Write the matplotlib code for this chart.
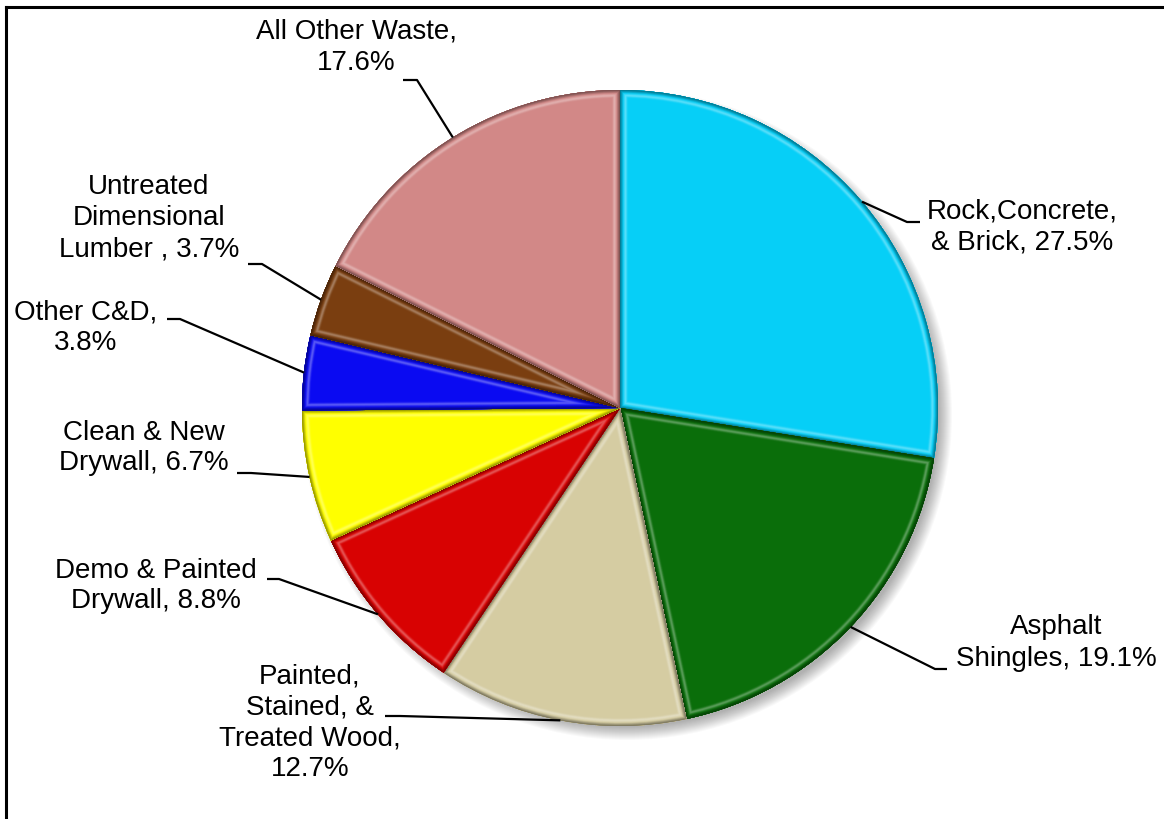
import matplotlib
matplotlib.use('Agg')
import matplotlib.pyplot as plt
import numpy as np
from matplotlib.patches import Wedge, Circle
from matplotlib.colors import to_rgb

plt.rcParams['font.family'] = ['Liberation Sans', 'DejaVu Sans']

W, H = 1164, 819

categories = ['Rock,Concrete,\n& Brick', 'Asphalt\nShingles', 'Painted,\nStained, &\nTreated Wood',
              'Demo & Painted\nDrywall', 'Clean & New\nDrywall', 'Other C&D',
              'Untreated\nDimensional\nLumber ', 'All Other Waste']
shares = [27.5, 19.1, 12.7, 8.8, 6.7, 3.8, 3.7, 17.6]
colors = ['#06CFF7', '#0A6E0A', '#D5CCA2', '#D80202', '#FFFF00', '#0A0AF2', '#7A3E10', '#D28887']

# label text: how the percentage joins the category name
label_fmt = ['{}, {}%', '{}, {}%', '{},\n{}%', '{}, {}%', '{}, {}%', '{},\n{}%', '{}, {}%', '{},\n{}%']

# label block centres and leader elbow/end points (pixels from top-left)
label_pos = [(1022, 227), (1056, 643), (310, 723), (156, 586), (144, 448), (86, 328), (149, 218), (356, 47)]
leader_end = [(920, 222), (947, 669), (385, 716), (267, 579), (237, 473), (167, 319), (248, 264), (403, 80)]
leader_elbow = [(907, 222), (935, 669), (400, 716), (279, 579), (251, 473), (180, 319), (262, 264), (417, 80)]

cx, cy, R = 620, 408, 318

fig = plt.figure(figsize=(W / 100, H / 100), dpi=100)
ax = fig.add_axes([0, 0, 1, 1])

# soft drop shadow
for k in range(14):
    ax.add_patch(Circle((cx + 7, H - cy - 7), R + 7 - k, color='black', alpha=0.025, lw=0))

wedges, _ = ax.pie(shares, colors=colors, startangle=90, counterclock=False,
                   center=(cx, H - cy), radius=R,
                   wedgeprops=dict(linewidth=0))


def shade(c, d):
    # bevel profile: dark rim, soft bright ridge a few pixels in, base colour inside
    base = np.array(to_rgb(c))
    dark = 0.55 + 0.45 * min(d / 3.5, 1.0)
    col = base * dark
    glow = 0.32 * np.exp(-((d - 5.5) / 1.6) ** 2)
    return np.clip(col + glow * (1 - col), 0, 1)


px = 72 / 100
for w, c in zip(wedges, colors):
    for d in np.arange(11, 0, -0.5):
        band = Wedge(w.center, w.r, w.theta1, w.theta2, fill=False,
                     edgecolor=shade(c, d - 0.25), linewidth=2 * d * px, joinstyle='round')
        band.set_clip_path(w)
        ax.add_patch(band)

# labels with leader lines from the rim at each slice's mid-angle
for w, name, v, fmt, (tx, ty), (ex, ey), (bx, by) in zip(
        wedges, categories, shares, label_fmt, label_pos, leader_end, leader_elbow):
    mid = np.deg2rad((w.theta1 + w.theta2) / 2)
    rx = cx + R * np.cos(mid)
    ry = (H - cy) + R * np.sin(mid)
    ax.plot([ex, bx, rx], [H - ey, H - by, ry], color='black', lw=1.6, solid_capstyle='butt')
    ax.text(tx, H - ty, fmt.format(name, v), ha='center', va='center',
            multialignment='center', fontsize=20, linespacing=1.25)

# frame lines along the left and top edges
ax.plot([6, 6], [0, H - 7], color='black', lw=2.2)
ax.plot([6, W], [H - 7, H - 7], color='black', lw=2.2)

ax.set_xlim(0, W)
ax.set_ylim(0, H)
ax.set_aspect('equal')
ax.axis('off')

fig.savefig('out.png', dpi=100)
